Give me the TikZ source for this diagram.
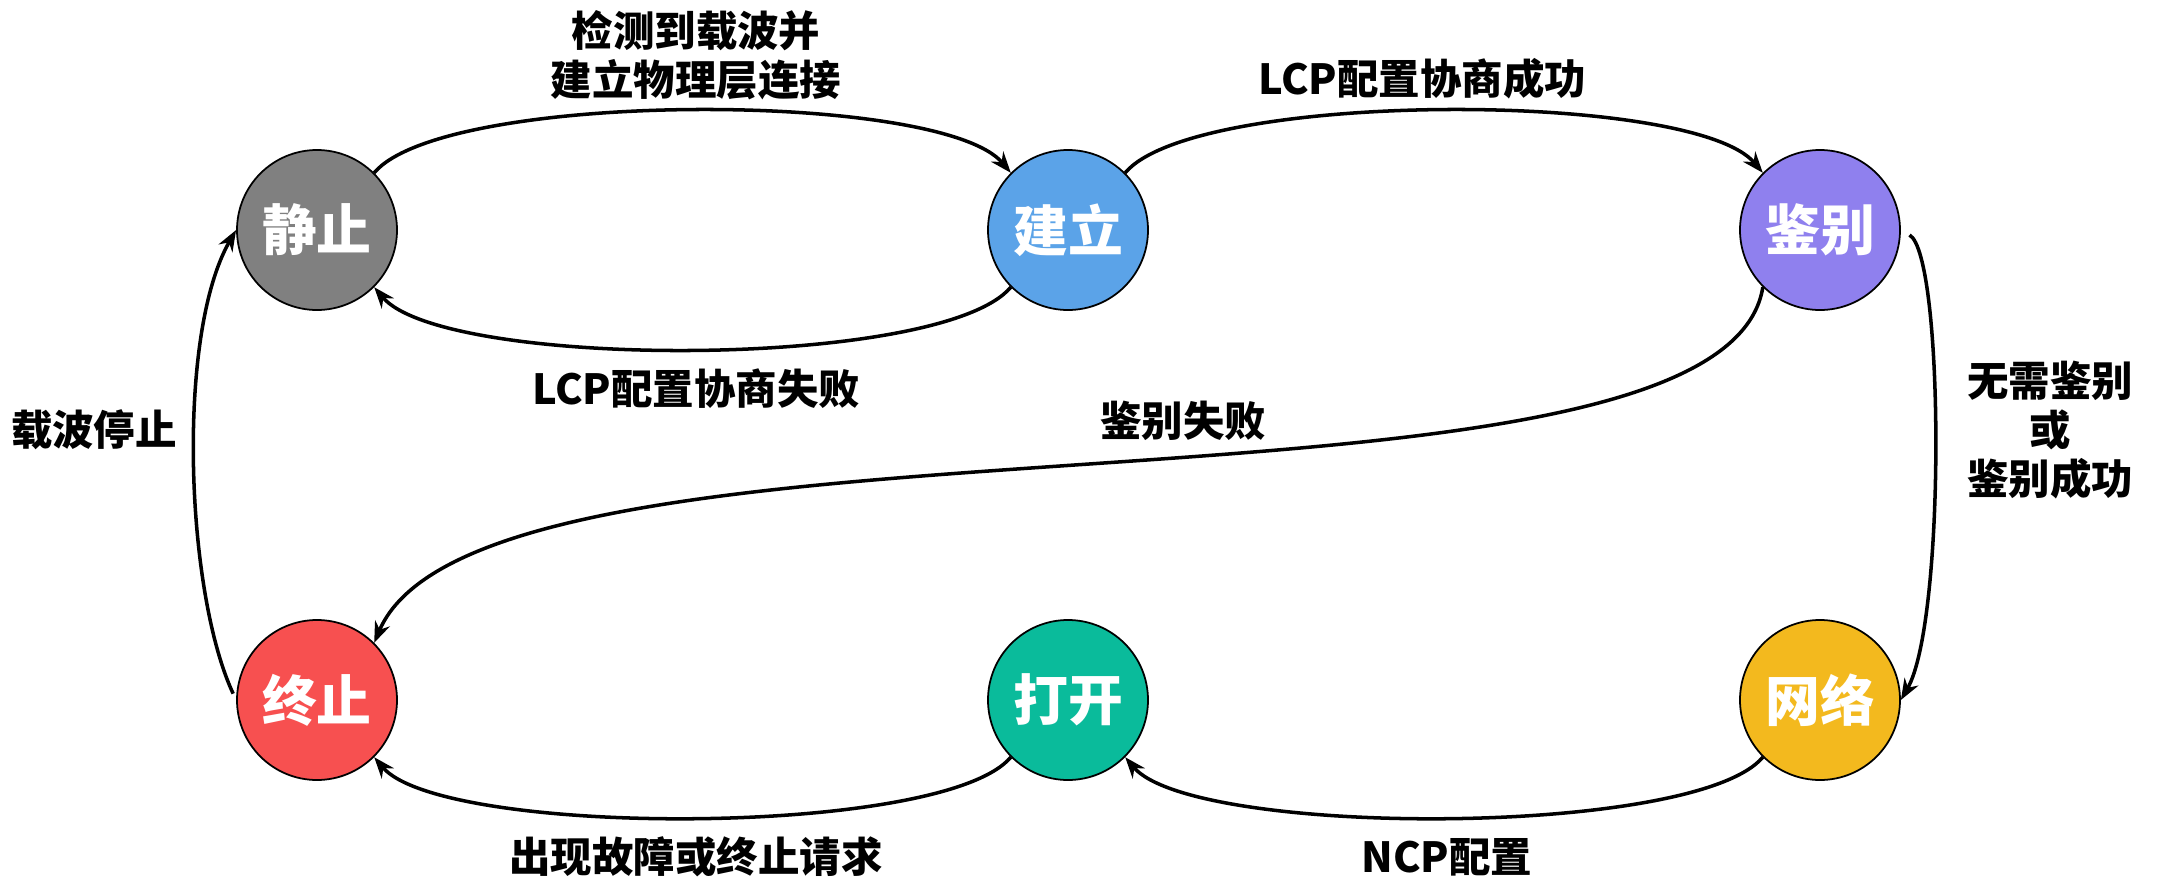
\documentclass[tikz,border=0pt]{standalone}
\usepackage{fontspec}
\usepackage{xcolor}
\usetikzlibrary{arrows.meta}
\newfontfamily\cjk{Noto Sans CJK SC}
\definecolor{stillgray}{RGB}{128, 128, 128}
\definecolor{buildblue}{RGB}{91, 163, 232}
\definecolor{authpurple}{RGB}{143, 128, 238}
\definecolor{termred}{RGB}{247, 80, 80}
\definecolor{openteal}{RGB}{10, 187, 155}
\definecolor{netyellow}{RGB}{243, 185, 30}

\begin{document}
\begin{tikzpicture}[
    font=\cjk\bfseries,
    state/.style={circle, draw=black, line width=0.5pt, fill=#1, minimum size=1.6cm,
        inner sep=0pt, text=white, font=\cjk\bfseries\fontsize{15.6}{18}\selectfont},
    state/.default=stillgray,
    trans/.style={-{Stealth[length=6pt, width=4.5pt]}, line width=1pt},
    lbl/.style={font=\cjk\bfseries\fontsize{11.8}{14}\selectfont, align=center}
]
    \useasboundingbox (0, 0) rectangle (21.61, 8.85);

    % States
    \node[state=stillgray] (still) at (3.17, 6.55) {静止};
    \node[state=buildblue] (build) at (10.68, 6.55) {建立};
    \node[state=authpurple] (auth) at (18.20, 6.55) {鉴别};
    \node[state=termred] (term) at (3.17, 1.85) {终止};
    \node[state=openteal] (open) at (10.68, 1.85) {打开};
    \node[state=netyellow] (net) at (18.20, 1.85) {网络};

    % Top row
    \draw[trans] (still.45) to[out=50, in=130, distance=1.08cm] (build.135);
    \draw[trans] (build.45) to[out=50, in=130, distance=1.08cm] (auth.135);
    \draw[trans] (build.225) to[out=-130, in=-50, distance=1.08cm] (still.-45);

    % Bottom row
    \draw[trans] (open.225) to[out=-130, in=-50, distance=1.05cm] (term.-45);
    \draw[trans] (net.225) to[out=-130, in=-50, distance=1.05cm] (open.-45);

    % Sides and the long one
    \draw[trans, shorten <=1mm] (auth.east) to[out=-30, in=60, out distance=0.5cm, in distance=0.9cm] (net.east);
    \draw[trans] (auth.225) to[out=-99, in=67, out distance=2.63cm, in distance=2.82cm] (term.45);
    \draw[trans, shorten <=0.7mm] (term.west) to[out=115, in=-120, distance=1.2cm] (still.west);

    % Labels
    \node[lbl] (l-carrier) at (6.96, 8.30) {检测到载波并\\建立物理层连接};
    \node[lbl] (l-lcpok) at (14.22, 8.06) {LCP配置协商成功};
    \node[lbl] (l-lcpfail) at (6.96, 4.96) {LCP配置协商失败};
    \node[lbl] (l-authfail) at (11.83, 4.64) {鉴别失败};
    \node[lbl] (l-authok) at (20.50, 4.55) {无需鉴别\\或\\鉴别成功};
    \node[lbl] (l-stop) at (0.94, 4.55) {载波停止};
    \node[lbl] (l-fault) at (6.96, 0.28) {出现故障或终止请求};
    \node[lbl] (l-ncp) at (14.47, 0.28) {NCP配置};

\end{tikzpicture}
\end{document}
